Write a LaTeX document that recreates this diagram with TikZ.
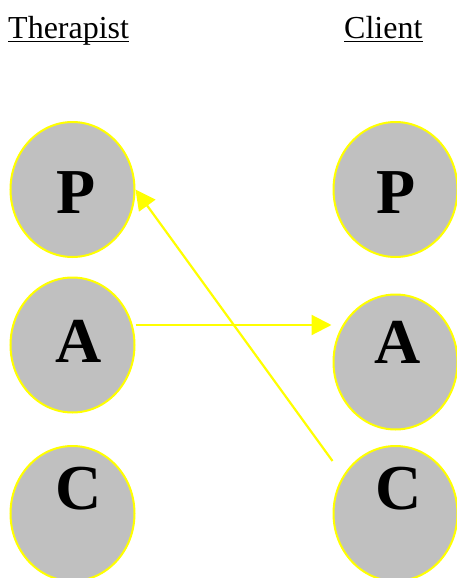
\documentclass[tikz,border=0pt]{standalone}
\usepackage{fontspec}
\setmainfont{Liberation Serif}
\usetikzlibrary{shapes.geometric,arrows.meta}
\definecolor{ovalgray}{RGB}{192,192,192}
\definecolor{ovalline}{RGB}{255,255,0}
\tikzset{
  x=1pt, y=1pt,
  oval/.style={ellipse, draw=ovalline, fill=ovalgray, line width=2pt,
               minimum width=124pt, minimum height=135pt, inner sep=0pt},
  letter/.style={inner sep=0pt, font=\fontsize{64}{64}\selectfont\bfseries},
  heading/.style={inner sep=0pt, anchor=base west, font=\fontsize{32}{32}\selectfont},
  flow/.style={draw=ovalline, line width=2.2pt,
               -{Triangle[length=20pt,width=20pt]}},
  rule/.style={line width=1.6pt}
}
\begin{document}
\begin{tikzpicture}
\useasboundingbox (0,0) rectangle (457,-578);
\clip (0,0) rectangle (457,-578);

% column headings
\node[heading] (th) at (8,-38) {Therapist};
\node[heading] (cl) at (344,-38) {Client};
\draw[rule] ([yshift=-3.5pt]th.base west) -- ([yshift=-3.5pt]th.base east);
\draw[rule] ([yshift=-3.5pt]cl.base west) -- ([yshift=-3.5pt]cl.base east);

% therapist ego states
\node[oval] (tP) at (72.5,-189.5) {};
\node[oval] (tA) at (72.5,-345) {};
\node[oval] (tC) at (72.5,-513.5) {};
% client ego states
\node[oval] (cP) at (395.5,-189.5) {};
\node[oval] (cA) at (395.5,-362) {};
\node[oval] (cC) at (395.5,-513.5) {};

% ego state letters
\node[letter] (tPl) at (76,-193) {P};
\node[letter] (tAl) at (79,-341) {A};
\node[letter] (tCl) at (79,-489) {C};
\node[letter] (cPl) at (396,-193) {P};
\node[letter] (cAl) at (397.5,-342) {A};
\node[letter] (cCl) at (399,-489) {C};

% transactions
\draw[flow] ([yshift=20pt]tA.east) -- ([xshift=-1pt,yshift=37pt]cA.west);
\draw[flow] ([yshift=52.5pt]cC.west) -- (tP.east);
\end{tikzpicture}
\end{document}
